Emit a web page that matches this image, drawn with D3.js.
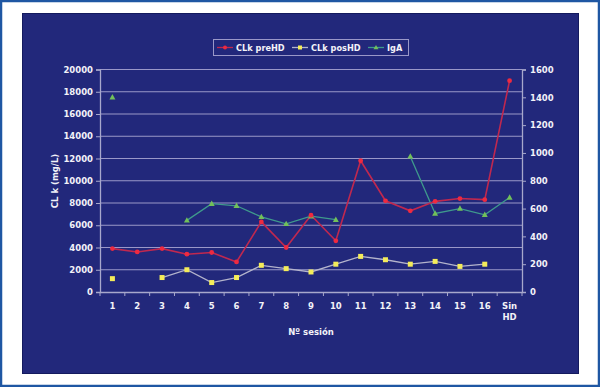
<!DOCTYPE html>
<html><head><meta charset="utf-8">
<script src="https://cdn.jsdelivr.net/npm/d3@7/dist/d3.min.js"></script>
<style>
html,body{margin:0;padding:0;background:#fff;}
svg{display:block;}
text{font-family:"DejaVu Sans",Verdana,sans-serif;font-weight:bold;fill:#f2f2f8;}
</style></head>
<body>
<svg id="c" width="600" height="387"></svg>
<script>
const categories = ["1","2","3","4","5","6","7","8","9","10","11","12","13","14","15","16","Sin HD"];
const clkPre  = [3900,3600,3900,3400,3550,2700,6300,4000,6900,4600,11800,8200,7300,8150,8400,8300,19000];
const clkPos  = [1200,null,1300,2000,850,1300,2400,2100,1800,2500,3200,2900,2500,2750,2300,2500,null];
const igA     = [1400,null,null,515,635,620,540,490,545,520,null,null,975,565,600,555,680];
const leftTicks  = [0,2000,4000,6000,8000,10000,12000,14000,16000,18000,20000];
const rightTicks = [0,200,400,600,800,1000,1200,1400,1600];
const seriesNames = ["CLk preHD","CLk posHD","IgA"];

const svg = d3.select("#c");
svg.append("rect").attr("x",1).attr("y",1).attr("width",598).attr("height",385)
  .attr("fill","#fff").attr("stroke","#1f57a3").attr("stroke-width",2.5);
svg.append("rect").attr("x",22.5).attr("y",13.5).attr("width",556).attr("height",360)
  .attr("fill","#22287b").attr("stroke","#141a5e").attr("stroke-width",1);

const x0 = 100, x1 = 522, yTop = 69.5, yBot = 292;
const x = d3.scaleBand().domain(categories).range([x0,x1]);
const yL = d3.scaleLinear().domain([0,20000]).range([yBot,yTop]);
const yR = d3.scaleLinear().domain([0,1600]).range([yBot,yTop]);
const cx = c => x(c) + x.bandwidth()/2;

svg.append("g").selectAll("line").data(leftTicks.slice(1)).join("line")
  .attr("x1",x0).attr("x2",x1).attr("y1",d=>yL(d)).attr("y2",d=>yL(d))
  .attr("stroke","#9a98c8").attr("stroke-width",1);

const axisColor = "#a8a8cc";
const gl = svg.append("g").attr("transform",`translate(${x0},0)`)
  .call(d3.axisLeft(yL).tickValues(leftTicks).tickSize(4).tickPadding(3).tickFormat(d3.format("d")));
const gr = svg.append("g").attr("transform",`translate(${x1},0)`)
  .call(d3.axisRight(yR).tickValues(rightTicks).tickSize(4).tickPadding(4).tickFormat(d3.format("d")));
const gb = svg.append("g").attr("transform",`translate(0,${yBot})`)
  .call(d3.axisBottom(x).tickSize(0).tickPadding(9).tickFormat(""));
svg.append("g").selectAll("line").data(d3.range(categories.length+1)).join("line")
  .attr("x1",i=>x0+i*x.step()).attr("x2",i=>x0+i*x.step())
  .attr("y1",yBot).attr("y2",yBot+4).attr("stroke",axisColor);
[gl,gr,gb].forEach(g=>{
  g.selectAll("path").attr("stroke",axisColor).attr("stroke-width",1.3);
  g.selectAll("line").attr("stroke",axisColor);
  g.selectAll("text").attr("font-size","8.5px").attr("fill","#f2f2f8")
   .style("font-family","'DejaVu Sans',Verdana,sans-serif").style("font-weight","bold");
});
const cl = svg.append("g").selectAll("text").data(categories).join("text")
  .attr("x",d=>cx(d)).attr("y",yBot+17).attr("text-anchor","middle").attr("font-size","8.5px");
cl.each(function(d){
  const parts = d.split(" ");
  const t = d3.select(this);
  parts.forEach((p,i)=>t.append("tspan").attr("x",cx(d)).attr("dy",i===0?0:11).text(p));
});

svg.append("text").attr("x",(x0+x1)/2).attr("y",335).attr("text-anchor","middle")
  .attr("font-size","8.5px").text("Nº sesión");
svg.append("text").attr("transform","translate(58,181) rotate(-90)").attr("text-anchor","middle")
  .attr("font-size","8.5px").text("CL k (mg/L)");

const lineL = d3.line().defined(d=>d.v!=null).x(d=>cx(d.c)).y(d=>yL(d.v));
const lineR = d3.line().defined(d=>d.v!=null).x(d=>cx(d.c)).y(d=>yR(d.v));
const mk = arr => categories.map((c,i)=>({c, v:arr[i]}));

const preD = mk(clkPre), posD = mk(clkPos), igD = mk(igA);
svg.append("path").datum(posD).attr("d",lineL).attr("fill","none").attr("stroke","#b4b4cc").attr("stroke-width",1.3);
svg.append("path").datum(igD).attr("d",lineR).attr("fill","none").attr("stroke","#3f9a8c").attr("stroke-width",1.3);
svg.append("path").datum(preD).attr("d",lineL).attr("fill","none").attr("stroke","#c0284f").attr("stroke-width",1.6);

svg.append("g").selectAll("rect").data(posD.filter(d=>d.v!=null)).join("rect")
  .attr("x",d=>cx(d.c)-2.5).attr("y",d=>yL(d.v)-2.5).attr("width",5).attr("height",5).attr("fill","#f4ec5a");
svg.append("g").selectAll("path").data(igD.filter(d=>d.v!=null)).join("path")
  .attr("transform",d=>`translate(${cx(d.c)},${yR(d.v)})`)
  .attr("d","M0,-3.2L3,2.2L-3,2.2Z").attr("fill","#72c05a");
svg.append("g").selectAll("circle").data(preD).join("circle")
  .attr("cx",d=>cx(d.c)).attr("cy",d=>yL(d.v)).attr("r",2.4).attr("fill","#ee2a40");

const lg = svg.append("g").attr("transform","translate(213,39)");
lg.append("rect").attr("x",0.5).attr("y",0.5).attr("width",195).attr("height",16)
  .attr("fill","#22287b").attr("stroke","#9a98c8").attr("stroke-width",1);
const legItems = [
  {n:seriesNames[0], col:"#c0284f", m:"circle", mc:"#ee2a40", x:4},
  {n:seriesNames[1], col:"#b4b4cc", m:"rect", mc:"#f4ec5a", x:79},
  {n:seriesNames[2], col:"#3f9a8c", m:"tri", mc:"#72c05a", x:155}
];
legItems.forEach(it=>{
  const g = lg.append("g").attr("transform",`translate(${it.x},8.5)`);
  g.append("line").attr("x1",0).attr("x2",16).attr("stroke",it.col).attr("stroke-width",1.3);
  if(it.m==="circle") g.append("circle").attr("cx",8).attr("r",2).attr("fill",it.mc);
  else if(it.m==="rect") g.append("rect").attr("x",6).attr("y",-2).attr("width",4).attr("height",4).attr("fill",it.mc);
  else g.append("path").attr("d","M8,-2.5L10.5,1.8L5.5,1.8Z").attr("fill",it.mc);
  g.append("text").attr("x",19).attr("y",3).attr("font-size","8.2px").text(it.n);
});
</script>
</body></html>
